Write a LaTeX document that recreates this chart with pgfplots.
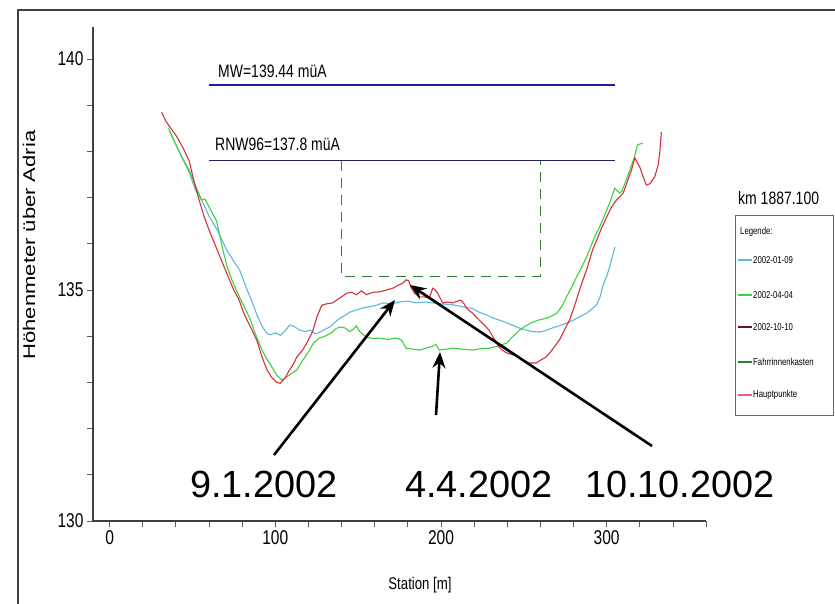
\documentclass[border=0pt]{standalone}
\usepackage{fontspec}
\setmainfont{Liberation Sans}
\newfontfamily\cf{Liberation Sans}[FakeStretch=0.78]
\newfontfamily\vf{Liberation Sans}[FakeStretch=1.3]
\usepackage{pgfplots}
\pgfplotsset{compat=1.18}
\usetikzlibrary{arrows.meta}

\definecolor{cjan}{HTML}{5DB7E0}
\definecolor{capr}{HTML}{3DD13D}
\definecolor{coct}{HTML}{D8303A}
\definecolor{legred}{HTML}{6A1030}
\definecolor{kasten}{HTML}{2E7D32}
\definecolor{haupt}{HTML}{E86080}
\definecolor{mwblue}{HTML}{1C1CA0}
\definecolor{rnw}{HTML}{2A1F5E}

\begin{document}
\begin{tikzpicture}
\begin{axis}[
  at={(93bp,-521bp)}, anchor=south west,
  x=1.657bp, y=46.2bp,
  xmin=-10, xmax=360, ymin=130, ymax=140.69,
  axis x line=bottom, axis y line=left,
  axis line style={-, line width=1.4bp, black!75},
  xtick={0,100,200,300}, minor xtick={20,40,...,360},
  ytick={130,135,140}, minor ytick={131,...,139},
  tick align=outside, major tick length=6bp, minor tick length=6bp,
  tick style={black!65, line width=0.8bp},
  /pgf/number format/assume math mode=true,
  ticklabel style={font=\cf\fontsize{20}{20}\selectfont},
  clip=false,
]
% water levels
\addplot[mwblue, line width=1.3bp] coordinates {(60,139.44)(305,139.44)};
\addplot[rnw, line width=1.3bp] coordinates {(60,137.8)(305,137.8)};
% Fahrrinnenkasten
\addplot[kasten, line width=1.1bp, dash pattern=on 10bp off 7bp]
  coordinates {(140,137.8)(140,135.3)(260,135.3)(260,137.8)};
% 2002-01-09
\addplot[cjan, line width=1.1bp] coordinates {
(36,138.45)(42,138.0)(48,137.55)(52,137.15)(55.5,136.95)(60,136.6)(65,136.3)
(70.6,135.87)(74.5,135.65)(78.5,135.43)(82.5,135.05)(86.3,134.72)(89,134.45)
(92.3,134.2)(94.5,134.08)(96.6,134.03)(98.5,134.05)(100.6,134.07)(103,134.02)
(106,134.12)(108.6,134.24)(111,134.22)(114.7,134.13)(118,134.1)(121,134.13)
(124,134.05)(127,134.09)(130,134.15)(133,134.2)(136,134.3)(139,134.39)
(142,134.45)(145,134.52)(150,134.58)(155,134.63)(160,134.66)(165,134.72)
(170,134.7)(175,134.74)(180,134.76)(185,134.72)(190,134.74)(195,134.72)
(200,134.7)(207,134.68)(213,134.64)(219,134.6)(223,134.52)(227.5,134.46)
(231,134.4)(235,134.35)(239,134.3)(243,134.24)(247,134.18)(251.7,134.13)
(255,134.1)(259.5,134.09)(263,134.12)(267.4,134.18)(271,134.22)(275.8,134.28)
(280,134.35)(283.6,134.42)(288,134.5)(291.5,134.6)(294,134.68)(296,134.85)
(297.5,135.07)(300,135.3)(301.8,135.5)(303.6,135.75)(305,135.93)};
% 2002-04-04
\addplot[capr, line width=1.1bp] coordinates {
(35.6,138.5)(40,138.15)(44,137.85)(48,137.6)(52,137.25)(55.5,136.95)(57.5,136.97)
(60,136.8)(64.5,136.5)(68.5,135.85)(71,135.5)(74,135.2)(79,134.8)(84.5,134.4)
(88,134.05)(92,133.7)(95,133.5)(98.5,133.3)(101,133.15)(104,133.05)(107,133.12)
(110,133.2)(113,133.27)(116,133.45)(118,133.55)(120.7,133.7)(123,133.85)
(126.7,133.96)(130,134.0)(134.6,134.09)(136,134.15)(138.8,134.2)(142,134.18)
(145,134.1)(147,134.15)(149,134.22)(151,134.1)(155,133.98)(159,133.95)
(163,133.96)(168,133.93)(173,133.96)(176,133.92)(179,133.74)(183,133.72)
(187,133.7)(191,133.74)(194,133.77)(197,133.82)(199,133.7)(203,133.72)
(207,133.74)(213,133.72)(219,133.7)(224,133.73)(229,133.74)(234,133.78)
(239.5,133.85)(243,133.98)(247.4,134.13)(251,134.22)(255,134.3)(259,134.35)
(263.7,134.39)(267,134.44)(270,134.5)(273,134.65)(275.8,134.85)(279,135.07)
(281.8,135.28)(285,135.5)(287.7,135.7)(290,135.9)(292.7,136.15)(295.7,136.36)
(298,136.55)(300,136.73)(302.5,136.95)(304.8,137.2)(307.8,137.1)(309,137.13)
(311.5,137.35)(314,137.6)(316.8,137.88)(318.6,138.14)(321.7,138.18)};
% 2002-10-10
\addplot[coct, line width=1.1bp] coordinates {
(31.4,138.85)(34,138.65)(37,138.5)(40,138.35)(44,138.1)(48,137.8)(51,137.35)
(54,136.95)(57,136.6)(60,136.3)(64,135.95)(68,135.6)(72,135.25)(75,135.0)
(78,134.8)(81,134.5)(85,134.2)(89,133.9)(92,133.55)(95,133.27)(98,133.1)
(101,133.0)(103,132.98)(106,133.1)(108.6,133.27)(111,133.4)(113,133.55)
(116.5,133.7)(119,133.85)(122.5,134.1)(125,134.4)(128,134.67)(131,134.7)
(134.6,134.72)(137,134.78)(140,134.85)(143,134.93)(146,134.95)(149,134.9)
(152,134.98)(155,134.9)(159,134.95)(163,134.96)(167,135.0)(171,135.04)
(174,135.1)(177,135.15)(179,135.22)(180.5,135.2)(182,135.05)(184,134.93)
(187,134.85)(190,134.85)(193,134.83)(195,135.04)(196.5,135.0)(198,134.93)
(201,134.72)(204,134.74)(207,134.72)(210,134.76)(212,134.78)(214,134.7)
(215.5,134.6)(219,134.5)(223,134.35)(226,134.25)(229,134.13)(232,133.95)
(235,133.77)(237,133.7)(239.5,133.64)(243,133.6)(247,133.55)(250,133.48)
(253,133.42)(257.5,133.42)(260,133.48)(263.5,133.55)(267,133.7)(271.5,133.92)
(274,134.1)(277.6,134.35)(281,134.7)(283.6,135.0)(286,135.25)(288,135.45)
(291.5,135.87)(294,136.08)(297,136.35)(300,136.58)(303,136.8)(306,136.95)
(310,137.1)(312.5,137.35)(315,137.6)(317,137.86)(320,137.66)(322,137.45)
(324,137.27)(326,137.3)(329,137.45)(331,137.7)(332,137.96)(333,138.42)};
\end{axis}

\begin{scope}[x=1bp, y=-1bp]
\path[use as bounding box] (0,0) rectangle (835,604);
\draw[line width=1.4bp, black!75] (18,604) -- (18,10) -- (835,10);
% axis titles
\node[rotate=90, font=\vf\fontsize{17}{17}\selectfont] at (29,245) {Höhenmeter über Adria};
\node[font=\cf\fontsize{17}{17}\selectfont] at (420,585) {Station [m]};
% level labels
\node[anchor=base west, inner sep=0pt, font=\cf\fontsize{18}{18}\selectfont] at (218,78) {MW=139.44 müA};
\node[anchor=base west, inner sep=0pt, font=\cf\fontsize{18}{18}\selectfont] at (215,151) {RNW96=137.8 müA};
% legend
\node[anchor=west, inner sep=0pt, font=\cf\fontsize{18}{18}\selectfont] at (738,198) {km 1887.100};
\draw[black!60, line width=0.8bp] (735,215) rectangle (833,415);
\begin{scope}[every node/.style={anchor=west, inner sep=0pt, font=\cf\fontsize{10}{10}\selectfont}]
\node at (740,232) {Legende:};
\draw[cjan, line width=1.6bp] (738,260) -- (752,260); \node at (753,260) {2002-01-09};
\draw[capr, line width=1.6bp] (738,295) -- (752,295); \node at (753,295) {2002-04-04};
\draw[legred, line width=1.6bp] (738,327) -- (752,327); \node at (753,327) {2002-10-10};
\draw[kasten, line width=1.6bp] (738,362) -- (752,362); \node at (753,362) {Fahrrinnenkasten};
\draw[haupt, line width=1.6bp] (738,395) -- (752,395); \node at (753,395) {Hauptpunkte};
\end{scope}
% annotations
\begin{scope}[line width=2.6bp, -{Stealth[length=16bp,width=13bp]}]
\draw (274,455) -- (395,300);
\draw (436,415) -- (440,352);
\draw (652,446) -- (410,285);
\end{scope}
\begin{scope}[every node/.style={anchor=west, inner sep=0pt, font=\fontsize{38}{38}\selectfont}]
\node at (190,484) {9.1.2002};
\node at (405,484) {4.4.2002};
\node at (585,484) {10.10.2002};
\end{scope}
\end{scope}
\end{tikzpicture}
\end{document}
